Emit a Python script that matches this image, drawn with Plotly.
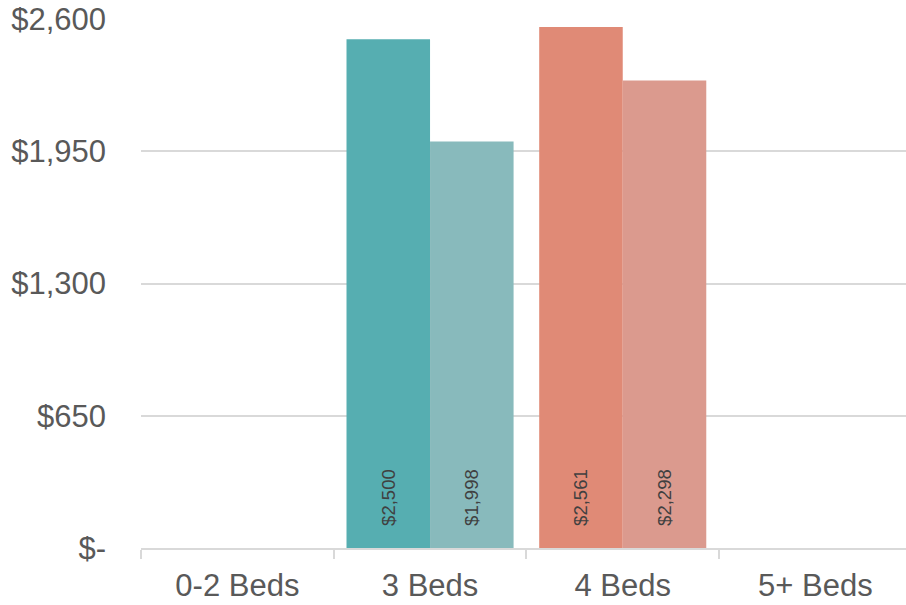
import plotly.graph_objects as go

categories = ["0-2 Beds", "3 Beds", "4 Beds", "5+ Beds"]
series_a = [None, 2500, 2561, None]
series_b = [None, 1998, 2298, None]
colors_a = ["#56AEB1", "#56AEB1", "#E08A76", "#E08A76"]
colors_b = ["#88BABC", "#88BABC", "#DB9A8E", "#DB9A8E"]
y_tickvals = [0, 650, 1300, 1950, 2600]
y_ticktext = ["$-", "$650", "$1,300", "$1,950", "$2,600"]

pad = "\u00a0" * 3 + "\u2009"

def labels(vals):
    return [pad + f"${v:,}" if v is not None else "" for v in vals]

fig = go.Figure()
for vals, cols in [(series_a, colors_a), (series_b, colors_b)]:
    fig.add_trace(go.Bar(
        x=categories, y=vals, marker=dict(color=cols, line=dict(width=0)),
        text=labels(vals), textposition="inside", insidetextanchor="start",
        textangle=-90, textfont=dict(family="Liberation Sans, Arial", size=18.5, color="#404040"),
        cliponaxis=False, showlegend=False, hoverinfo="skip",
    ))

fig.update_layout(
    width=906, height=605,
    margin=dict(l=141, r=0, t=19, b=57, autoexpand=False),
    barmode="group", bargap=0.133, bargroupgap=0,
    plot_bgcolor="white", paper_bgcolor="white",
    font=dict(family="Liberation Sans, Arial", color="#595959"),
    uniformtext=dict(minsize=18, mode="show"),
)
fig.update_xaxes(
    range=[-0.5, 3.47], automargin=False,
    showline=True, linecolor="#D9D9D9", linewidth=2,
    ticks="outside", tickson="boundaries", ticklen=9, tickcolor="#D9D9D9", tickwidth=2,
    tickfont=dict(size=31, color="#595959"), showgrid=False, ticklabelstandoff=9,
    ticklabeloverflow="allow",
)
fig.update_yaxes(
    range=[0, 2600], tickvals=y_tickvals, ticktext=y_ticktext, automargin=False,
    showgrid=True, gridcolor="#D9D9D9", gridwidth=2, zeroline=False,
    tickfont=dict(size=31, color="#595959"), ticklabelstandoff=34,
    ticklabeloverflow="allow",
)

fig.write_html("out.html", config={"displayModeBar": False},
               post_script="document.body.style.margin='0';")
